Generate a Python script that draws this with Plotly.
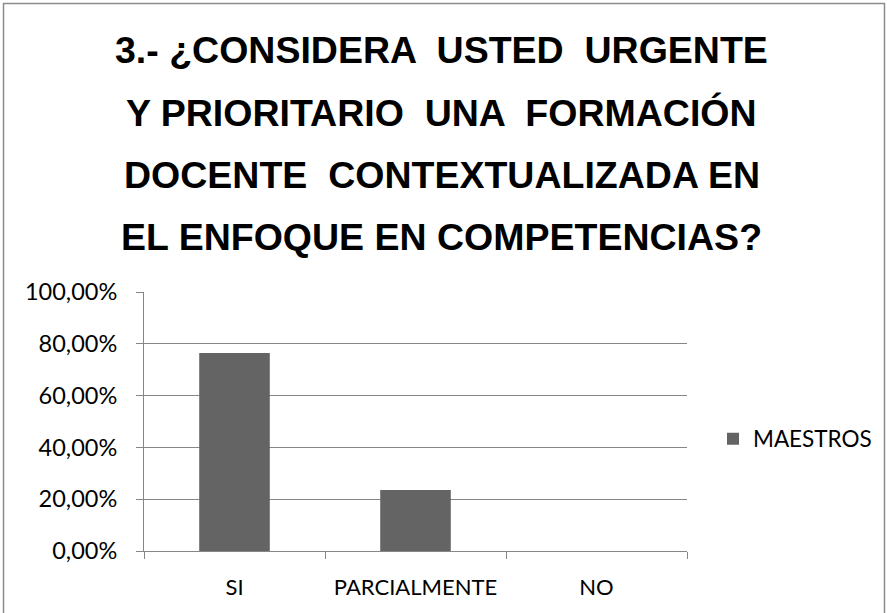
import plotly.graph_objects as go

categories = ["SI", "PARCIALMENTE", "NO"]
values = [0.7647, 0.2353, 0.0]
series_name = "MAESTROS"
tick_vals = [0, 0.2, 0.4, 0.6, 0.8, 1.0]
tick_text = ["0,00%", "20,00%", "40,00%", "60,00%", "80,00%", "100,00%"]
title_lines = [
    "3.- ¿CONSIDERA  USTED  URGENTE",
    "Y PRIORITARIO  UNA  FORMACIÓN",
    "DOCENTE  CONTEXTUALIZADA EN",
    "EL ENFOQUE EN COMPETENCIAS?",
]
title_px = [50, 113, 175, 237]

W, H = 887, 613
L, R, T, B = 144, 200, 292, 62
plot_w = W - L - R
plot_h = H - T - B

fig = go.Figure()
fig.add_trace(go.Bar(
    x=categories, y=values, name=series_name,
    marker=dict(color="#646464", line=dict(color="#8a8a8a", width=0)),
    showlegend=True,
))

annotations = []
for line, py in zip(title_lines, title_px):
    annotations.append(dict(
        text="<b>" + line + "</b>", xref="paper", yref="paper",
        x=(W / 2 - 2 - L) / plot_w, y=(H - B - py) / plot_h,
        xanchor="center", yanchor="middle", showarrow=False,
        font=dict(family="Liberation Sans Narrow, Arial Narrow, sans-serif", size=37.5, color="black"),
    ))

fig.update_layout(
    width=W, height=H,
    margin=dict(l=L, r=R, t=T, b=B, autoexpand=False),
    paper_bgcolor="white", plot_bgcolor="white",
    bargap=0.61,
    font=dict(family="Lato, Open Sans, sans-serif", size=22, color="black"),
    annotations=annotations,
    showlegend=True,
    legend=dict(x=(713 - L) / plot_w, y=(H - B - 439) / plot_h, xanchor="left", yanchor="middle",
                font=dict(size=22.5), itemwidth=30, bgcolor="rgba(0,0,0,0)"),
    shapes=[dict(type="rect", xref="paper", yref="paper",
                 x0=(3.5 - L) / plot_w, x1=(884.5 - L) / plot_w,
                 y0=(H - B - 640) / plot_h, y1=(H - B - 3.5) / plot_h,
                 line=dict(color="#8c8c8c", width=1.5), layer="below")],
)
fig.update_xaxes(
    type="category", showline=True, linecolor="#868686", linewidth=1,
    ticks="outside", tickson="boundaries", ticklen=7, tickcolor="#868686",
    showgrid=False, tickfont=dict(size=22), ticklabelstandoff=17,
)
fig.update_yaxes(
    range=[0, 1.0], tickvals=tick_vals, ticktext=tick_text,
    showline=True, linecolor="#868686", linewidth=1,
    ticks="outside", ticklen=7, tickcolor="#868686",
    showgrid=True, gridcolor="#868686", gridwidth=1,
    zeroline=False, tickfont=dict(size=23.5), ticklabelstandoff=14,
)

fig.write_html(
    "out.html",
    config={"displayModeBar": False},
    post_script="document.body.style.margin='0';document.body.style.padding='0';document.body.style.overflow='hidden';",
)
